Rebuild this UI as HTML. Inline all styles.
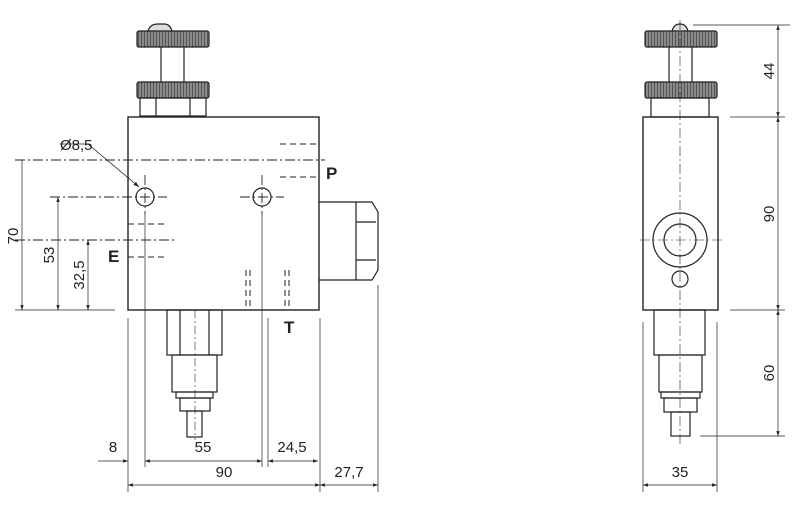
<!DOCTYPE html>
<html><head><meta charset="utf-8"><style>
html,body{margin:0;padding:0;background:#fff;}
svg{display:block;}
text{font-family:"Liberation Sans",sans-serif;fill:#222;}
</style></head><body>
<svg width="802" height="511" viewBox="0 0 802 511" xmlns="http://www.w3.org/2000/svg">
<defs>
<marker id="a" viewBox="0 0 10 10" refX="10" refY="5" markerWidth="10" markerHeight="7" orient="auto-start-reverse"><path d="M0,1.5 L10,5 L0,8.5z" fill="#222"/></marker>
<pattern id="k" width="3" height="10" patternUnits="userSpaceOnUse"><rect width="3" height="10" fill="#8a8a8a"/><rect width="1" height="10" fill="#555"/></pattern>
</defs>
<g stroke="#222" stroke-width="1.2" fill="none">
<path d="M148,31 Q150,24 158,24 L164,24 Q170,24 172,31" fill="#ddd"/>
<rect x="137" y="31" width="72" height="16" rx="2" fill="url(#k)"/>
<line x1="161" y1="47" x2="161" y2="82"/><line x1="184" y1="47" x2="184" y2="82"/>
<rect x="137" y="82" width="72" height="16" rx="2" fill="url(#k)"/>
<rect x="140" y="98" width="66" height="18"/>
<line x1="156" y1="98" x2="156" y2="116"/><line x1="190" y1="98" x2="190" y2="116"/>
<rect x="128" y="117" width="191" height="193" stroke-width="1.4"/>
<path d="M319,202 L372,202 L378,212 L378,270 L372,280 L319,280"/>
<line x1="356" y1="202" x2="356" y2="280"/><line x1="356" y1="222" x2="376" y2="222"/><line x1="356" y1="260" x2="376" y2="260"/>
<circle cx="145" cy="197" r="9"/><circle cx="262" cy="197" r="9"/>
<g stroke-width="0.9" stroke-dasharray="10,3,2,3">
<line x1="15" y1="160" x2="325" y2="160"/>
<line x1="15" y1="240" x2="175" y2="240"/>
<line x1="50" y1="197" x2="167" y2="197"/>
<line x1="240" y1="197" x2="284" y2="197"/>
<line x1="145" y1="175" x2="145" y2="215"/>
<line x1="262" y1="175" x2="262" y2="215"/>
</g>
<g stroke-width="1" stroke-dasharray="6,4">
<line x1="280" y1="144" x2="320" y2="144"/><line x1="280" y1="177" x2="320" y2="177"/>
<line x1="128" y1="224" x2="168" y2="224"/><line x1="128" y1="257" x2="168" y2="257"/>
<line x1="250" y1="270" x2="250" y2="310"/><line x1="285" y1="270" x2="285" y2="310"/>
<line x1="246" y1="270" x2="246" y2="310"/><line x1="289" y1="270" x2="289" y2="310"/>
</g>
<line x1="88" y1="144" x2="60" y2="144" stroke-width="0.8"/>
<line x1="88" y1="144" x2="139" y2="187" stroke-width="0.8" marker-end="url(#a)"/>
<rect x="167" y="310" width="55" height="45"/>
<line x1="180" y1="310" x2="180" y2="355"/><line x1="209" y1="310" x2="209" y2="355"/>
<rect x="172" y="355" width="45" height="37"/>
<rect x="176" y="392" width="37" height="6"/>
<rect x="180" y="398" width="30" height="13"/>
<rect x="187" y="411" width="15" height="26"/>
<line x1="195" y1="310" x2="195" y2="440" stroke-width="0.6" stroke-dasharray="8,3,2,3"/>
<g stroke-width="0.7">
<line x1="15" y1="310" x2="115" y2="310"/>
<line x1="128" y1="318" x2="128" y2="492"/>
<line x1="145" y1="215" x2="145" y2="467"/>
<line x1="262" y1="215" x2="262" y2="467"/>
<line x1="268" y1="318" x2="268" y2="467"/>
<line x1="320" y1="318" x2="320" y2="492"/>
<line x1="378" y1="285" x2="378" y2="492"/>
<line x1="22" y1="160" x2="22" y2="310" marker-end="url(#a)"/>
<line x1="58" y1="197" x2="58" y2="310" marker-start="url(#a)" marker-end="url(#a)"/>
<line x1="88" y1="240" x2="88" y2="310" marker-start="url(#a)" marker-end="url(#a)"/>
<line x1="98" y1="461" x2="128" y2="461" marker-end="url(#a)"/>
<line x1="145" y1="461" x2="262" y2="461" marker-start="url(#a)" marker-end="url(#a)"/>
<line x1="268" y1="461" x2="318" y2="461" marker-start="url(#a)" marker-end="url(#a)"/>
<line x1="128" y1="485" x2="320" y2="485" marker-start="url(#a)" marker-end="url(#a)"/>
<line x1="320" y1="485" x2="378" y2="485" marker-start="url(#a)" marker-end="url(#a)"/>
</g>
<path d="M672,31 Q674,24 680,24 Q686,24 688,31" fill="#ddd"/>
<rect x="645" y="31" width="72" height="16" rx="2" fill="url(#k)"/>
<line x1="669" y1="47" x2="669" y2="82"/><line x1="692" y1="47" x2="692" y2="82"/>
<rect x="645" y="82" width="72" height="16" rx="2" fill="url(#k)"/>
<rect x="651" y="98" width="58" height="19"/>
<rect x="643" y="117" width="75" height="193" stroke-width="1.4"/>
<circle cx="680" cy="240" r="27"/><circle cx="680" cy="240" r="16"/>
<circle cx="680" cy="279" r="8"/>
<line x1="680" y1="20" x2="680" y2="445" stroke-width="0.6" stroke-dasharray="10,3,2,3"/>
<line x1="640" y1="240" x2="722" y2="240" stroke-width="0.6" stroke-dasharray="10,3,2,3"/>
<rect x="654" y="310" width="51" height="45"/>
<rect x="659" y="355" width="43" height="37"/>
<rect x="661" y="392" width="39" height="6"/>
<rect x="664" y="398" width="33" height="14"/>
<rect x="671" y="412" width="19" height="24"/>
<g stroke-width="0.7">
<line x1="693" y1="25" x2="790" y2="25"/>
<line x1="730" y1="117" x2="785" y2="117"/>
<line x1="730" y1="310" x2="785" y2="310"/>
<line x1="700" y1="436" x2="785" y2="436"/>
<line x1="778" y1="25" x2="778" y2="117" marker-start="url(#a)" marker-end="url(#a)"/>
<line x1="778" y1="117" x2="778" y2="310" marker-start="url(#a)" marker-end="url(#a)"/>
<line x1="778" y1="310" x2="778" y2="436" marker-start="url(#a)" marker-end="url(#a)"/>
<line x1="643" y1="322" x2="643" y2="492"/>
<line x1="717" y1="322" x2="717" y2="492"/>
<line x1="643" y1="485" x2="717" y2="485" marker-start="url(#a)" marker-end="url(#a)"/>
</g>
</g>
<g font-size="15">
<text x="60" y="150">Ø8,5</text>
<text x="113" y="452" text-anchor="middle">8</text>
<text x="203" y="452" text-anchor="middle">55</text>
<text x="292" y="452" text-anchor="middle">24,5</text>
<text x="224" y="477" text-anchor="middle">90</text>
<text x="349" y="477" text-anchor="middle">27,7</text>
<text x="680" y="477" text-anchor="middle">35</text>
<text transform="translate(18,236) rotate(-90)" text-anchor="middle">70</text>
<text transform="translate(54,255) rotate(-90)" text-anchor="middle">53</text>
<text transform="translate(84,275) rotate(-90)" text-anchor="middle">32,5</text>
<text transform="translate(774,71) rotate(-90)" text-anchor="middle">44</text>
<text transform="translate(774,214) rotate(-90)" text-anchor="middle">90</text>
<text transform="translate(774,373) rotate(-90)" text-anchor="middle">60</text>
</g>
<g font-size="17" font-weight="bold">
<text x="326" y="179">P</text>
<text x="108" y="262">E</text>
<text x="284" y="333">T</text>
</g>
</svg>
</body></html>
